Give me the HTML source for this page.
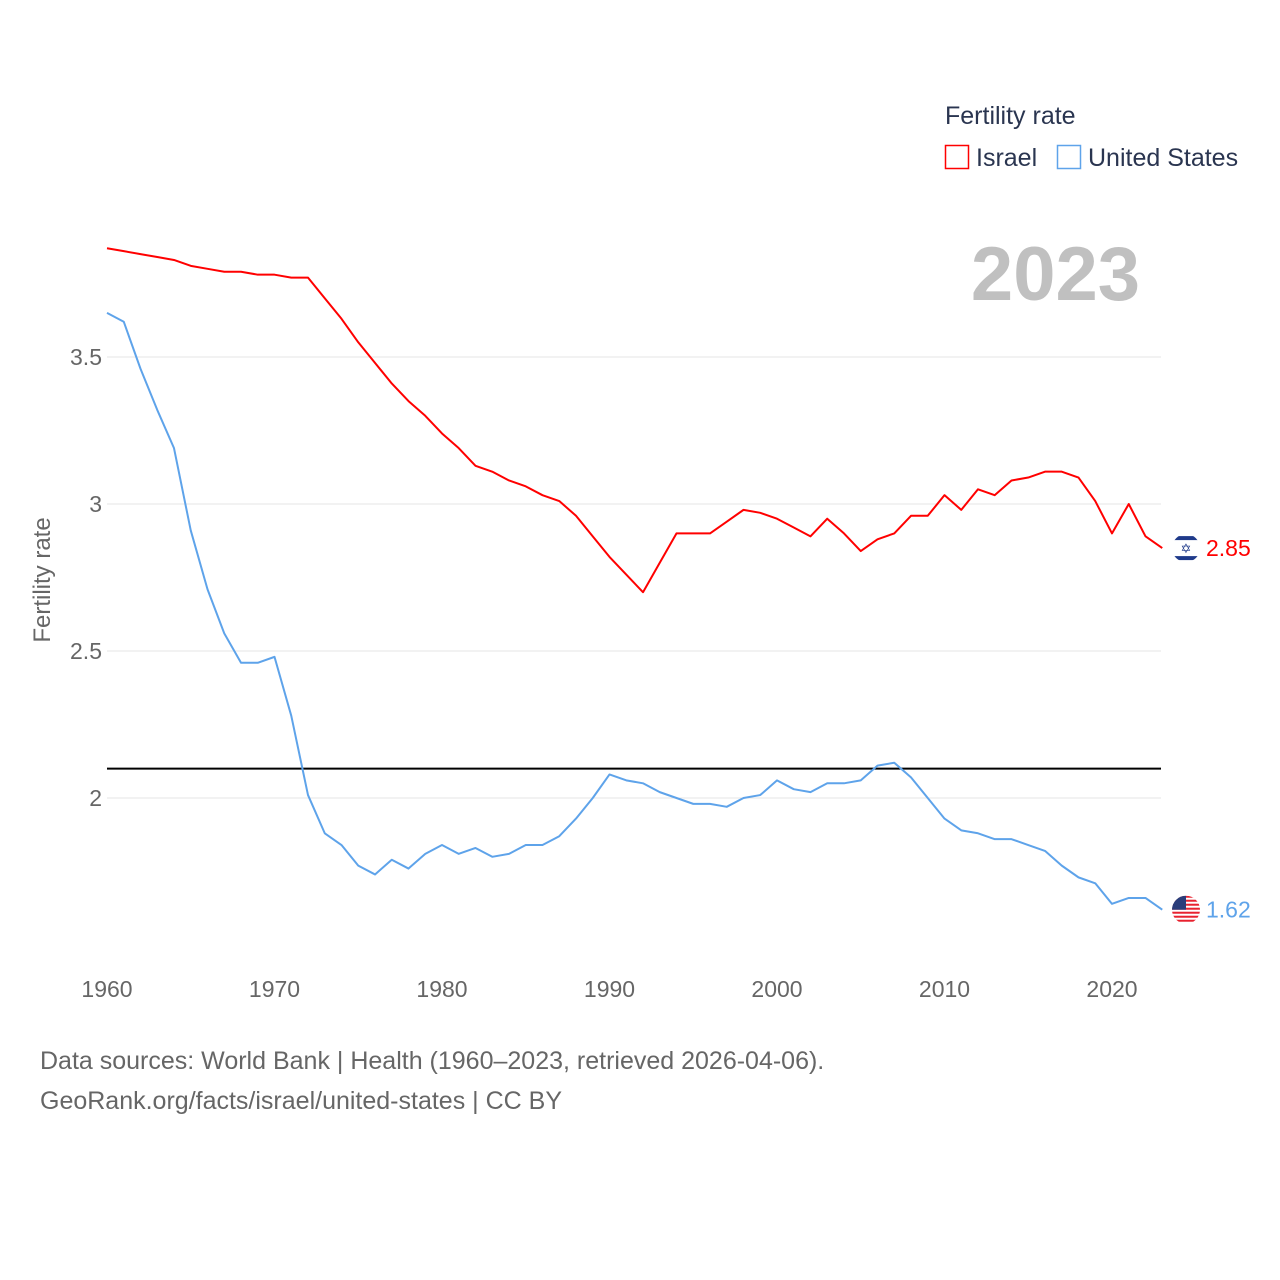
<!DOCTYPE html>
<html><head><meta charset="utf-8">
<style>
html,body{margin:0;padding:0;background:#fff;}
body{width:1280px;height:1280px;position:relative;overflow:hidden;font-family:"Liberation Sans",sans-serif;}
.t{position:absolute;white-space:nowrap;}
</style></head>
<body>
<svg id="chart" width="1280" height="1280" style="position:absolute;left:0;top:0">
  <g id="grid"></g>
  <g id="ticks"></g>
  <g id="series"></g>
  <text x="1140" y="300" text-anchor="end" font-size="76" font-weight="bold" fill="#c0c0c0">2023</text>
  <text transform="translate(50,580) rotate(-90)" text-anchor="middle" font-size="24" fill="#666">Fertility rate</text>
  <g>
    <text x="945" y="124" font-size="25" fill="#2a3550">Fertility rate</text>
    <rect x="945.5" y="145.5" width="23" height="23" fill="none" stroke="#ff0000" stroke-width="1.5"/>
    <text x="976" y="166" font-size="25" fill="#2a3550">Israel</text>
    <rect x="1057.5" y="145.5" width="23" height="23" fill="none" stroke="#5ea3ea" stroke-width="1.5"/>
    <text x="1088" y="166" font-size="25" fill="#2a3550">United States</text>
  </g>
  <text x="40" y="1069" font-size="25" fill="#666">Data sources: World Bank | Health (1960–2023, retrieved 2026-04-06).</text>
  <text x="40" y="1109" font-size="25" fill="#666">GeoRank.org/facts/israel/united-states | CC BY</text>
</svg>
<script>
const years = [];
for (let y = 1960; y <= 2023; y++) years.push(y);
const israelValues = [3.87,3.86,3.85,3.84,3.83,3.81,3.80,3.79,3.79,3.78,3.78,3.77,3.77,3.70,3.63,3.55,3.48,3.41,3.35,3.30,3.24,3.19,3.13,3.11,3.08,3.06,3.03,3.01,2.96,2.89,2.82,2.76,2.70,2.80,2.90,2.90,2.90,2.94,2.98,2.97,2.95,2.92,2.89,2.95,2.90,2.84,2.88,2.90,2.96,2.96,3.03,2.98,3.05,3.03,3.08,3.09,3.11,3.11,3.09,3.01,2.90,3.00,2.89,2.85];
const usValues = [3.65,3.62,3.46,3.32,3.19,2.91,2.71,2.56,2.46,2.46,2.48,2.28,2.01,1.88,1.84,1.77,1.74,1.79,1.76,1.81,1.84,1.81,1.83,1.80,1.81,1.84,1.84,1.87,1.93,2.00,2.08,2.06,2.05,2.02,2.00,1.98,1.98,1.97,2.00,2.01,2.06,2.03,2.02,2.05,2.05,2.06,2.11,2.12,2.07,2.00,1.93,1.89,1.88,1.86,1.86,1.84,1.82,1.77,1.73,1.71,1.64,1.66,1.66,1.62];
const yTicks = [2, 2.5, 3, 3.5];
const yTickLabels = ["2", "2.5", "3", "3.5"];
const xTicks = [1960, 1970, 1980, 1990, 2000, 2010, 2020];
const referenceValue = [2.1];

const NS = "http://www.w3.org/2000/svg";
const xs = yr => 107 + (yr - 1960) * (1005 / 60);
const ys = v => 798 - (v - 2) * 294;
function mk(tag, attrs, parent) {
  const e = document.createElementNS(NS, tag);
  for (const k in attrs) e.setAttribute(k, attrs[k]);
  parent.appendChild(e);
  return e;
}
const grid = document.getElementById("grid"), ticks = document.getElementById("ticks"), series = document.getElementById("series");
yTicks.forEach((v, i) => {
  const l = mk("line", {x1: 107, x2: 1161, y1: ys(v), y2: ys(v), stroke: "#e6e6e6", "stroke-width": 1}, grid);
  
  
  const t = mk("text", {x: 102, y: ys(v) + 8, "text-anchor": "end", "font-size": 23, fill: "#666"}, ticks);
  t.textContent = yTickLabels[i];
  
  
});
xTicks.forEach(yr => {
  const t = mk("text", {x: xs(yr), y: 997, "text-anchor": "middle", "font-size": 23, fill: "#666"}, ticks);
  t.textContent = yr;
  
  
});
const ref = mk("line", {x1: 107, x2: 1161, y1: ys(referenceValue[0]), y2: ys(referenceValue[0]), stroke: "#000", "stroke-width": 2}, series);


function line(vals, color, name) {
  const p = mk("polyline", {points: vals.map((v, i) => xs(years[i]) + "," + ys(v)).join(" "), fill: "none", stroke: color, "stroke-width": 2, "stroke-linejoin": "round"}, series);
  
  
}
line(israelValues, "#ff0000", "israel-line");
line(usValues, "#5ea3ea", "us-line");

// end flags & labels
function endMark(vals, color, name, kind) {
  const v = vals[vals.length - 1], cy = ys(v), cx = 1186;
  const g = mk("g", {}, series);
  
  
  mk("clipPath", {id: "c" + name}, g).appendChild(document.createElementNS(NS, "circle")).setAttribute("r", 0);
  const cp = g.querySelector("clipPath circle");
  cp.setAttribute("cx", cx); cp.setAttribute("cy", cy); cp.setAttribute("r", 14);
  const inner = mk("g", {"clip-path": "url(#c" + name + ")"}, g);
  if (kind === "il") {
    mk("rect", {x: cx - 14, y: cy - 14, width: 28, height: 28, fill: "#fff"}, inner);
    mk("rect", {x: cx - 14, y: cy - 12, width: 28, height: 4, fill: "#1f3a8a"}, inner);
    mk("rect", {x: cx - 14, y: cy + 8, width: 28, height: 4, fill: "#1f3a8a"}, inner);
    const s = mk("text", {x: cx, y: cy + 5, "text-anchor": "middle", "font-size": 13, fill: "#1f3a8a"}, inner);
    s.textContent = "✡";
  } else {
    for (let i = 0; i < 7; i++) mk("rect", {x: cx - 14, y: cy - 14 + i * 4, width: 28, height: 2, fill: "#e8212e"}, inner);
    mk("rect", {x: cx - 14, y: cy - 14, width: 14, height: 14, fill: "#2a3d7a"}, inner);
  }
  const t = mk("text", {x: 1206, y: cy + 8, "font-size": 23, fill: color}, series);
  t.textContent = v.toFixed(2);
  
  
}
endMark(israelValues, "#ff0000", "israel", "il");
endMark(usValues, "#5ea3ea", "us", "us");
</script>
</body></html>
